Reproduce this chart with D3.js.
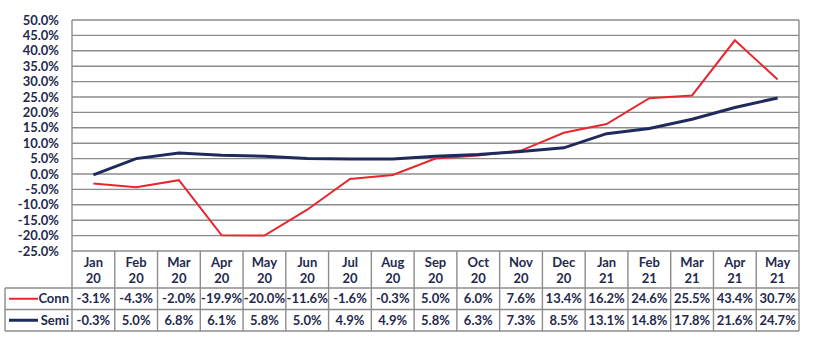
<!DOCTYPE html>
<html>
<head>
<meta charset="utf-8">
<script src="https://cdn.jsdelivr.net/npm/d3@7"></script>
<style>
  body { margin: 0; background: #fff; }
  svg text { font-family: Lato, "Open Sans", sans-serif; font-weight: bold; fill: #1f2a4e; }
</style>
</head>
<body>
<svg id="chart" width="818" height="364"></svg>
<script>
// data
const months = ["Jan", "Feb", "Mar", "Apr", "May", "Jun", "Jul", "Aug", "Sep", "Oct", "Nov", "Dec", "Jan", "Feb", "Mar", "Apr", "May"];
const years = ["20", "20", "20", "20", "20", "20", "20", "20", "20", "20", "20", "20", "21", "21", "21", "21", "21"];
const conn = [-3.1, -4.3, -2.0, -19.9, -20.0, -11.6, -1.6, -0.3, 5.0, 6.0, 7.6, 13.4, 16.2, 24.6, 25.5, 43.4, 30.7];
const semi = [-0.3, 5.0, 6.8, 6.1, 5.8, 5.0, 4.9, 4.9, 5.8, 6.3, 7.3, 8.5, 13.1, 14.8, 17.8, 21.6, 24.7];
const yTicks = [50, 45, 40, 35, 30, 25, 20, 15, 10, 5, 0, -5, -10, -15, -20, -25];

const series = [
  { name: "Conn", values: conn, color: "#e8262d", width: 2 },
  { name: "Semi", values: semi, color: "#1f2a5c", width: 3 }
];

const svg = d3.select("#chart");
const plotLeft = 72, plotRight = 799, plotTop = 20, plotBottom = 251;
const headerH = 37, rowH = 21.5, legendLeft = 5;
const gridColor = "#8c8c8c";
const fs = "13px";

const x = d3.scaleBand().domain(d3.range(months.length)).range([plotLeft, plotRight]);
const y = d3.scaleLinear().domain([-25, 50]).range([plotBottom, plotTop]);
const tableBottom = plotBottom + headerH + 2 * rowH;

// gridlines
svg.append("g").selectAll("line").data(yTicks).enter().append("line")
  .attr("x1", plotLeft).attr("x2", plotRight)
  .attr("y1", d => y(d)).attr("y2", d => y(d))
  .attr("stroke", gridColor).attr("stroke-width", 1.4);

// plot border sides
[plotLeft, plotRight].forEach(xx => {
  svg.append("line").attr("x1", xx).attr("x2", xx).attr("y1", plotTop).attr("y2", tableBottom)
    .attr("stroke", gridColor).attr("stroke-width", 1.4);
});

// y axis labels
const yAxis = d3.axisLeft(y).tickValues(yTicks).tickSize(0).tickPadding(13)
  .tickFormat(d => d.toFixed(1) + "%");
const ya = svg.append("g").attr("transform", `translate(${plotLeft},0)`).call(yAxis);
ya.select(".domain").remove();
ya.selectAll("text").style("font-size", fs).attr("font-family", null).attr("fill", null);

// lines
const line = d3.line().x((d, i) => x(i) + x.bandwidth() / 2).y(d => y(d));
series.forEach(s => {
  svg.append("path").datum(s.values).attr("d", line)
    .attr("fill", "none").attr("stroke", s.color).attr("stroke-width", s.width)
    .attr("stroke-linejoin", "miter");
});

// data table
const tbl = svg.append("g");
// horizontal rules
[plotBottom + headerH, plotBottom + headerH + rowH, tableBottom].forEach(yy => {
  tbl.append("line").attr("x1", legendLeft).attr("x2", plotRight).attr("y1", yy).attr("y2", yy)
    .attr("stroke", gridColor).attr("stroke-width", 1.4);
});
tbl.append("line").attr("x1", legendLeft).attr("x2", legendLeft)
  .attr("y1", plotBottom + headerH).attr("y2", tableBottom)
  .attr("stroke", gridColor).attr("stroke-width", 1.4);
// column separators
tbl.selectAll("line.col").data(d3.range(1, months.length)).enter().append("line")
  .attr("class", "col")
  .attr("x1", d => x(d)).attr("x2", d => x(d))
  .attr("y1", plotBottom).attr("y2", tableBottom)
  .attr("stroke", gridColor).attr("stroke-width", 1.4);

// header
months.forEach((m, i) => {
  const cx = x(i) + x.bandwidth() / 2;
  tbl.append("text").attr("x", cx).attr("y", plotBottom + 16).attr("text-anchor", "middle")
    .style("font-size", fs).text(m);
  tbl.append("text").attr("x", cx).attr("y", plotBottom + 32).attr("text-anchor", "middle")
    .style("font-size", fs).text(years[i]);
});

// rows
series.forEach((s, r) => {
  const rowTop = plotBottom + headerH + r * rowH;
  const cy = rowTop + rowH / 2;
  tbl.append("line").attr("x1", legendLeft + 4).attr("x2", 38).attr("y1", cy).attr("y2", cy)
    .attr("stroke", s.color).attr("stroke-width", s.width);
  tbl.append("text").attr("x", plotLeft - 3).attr("y", cy + 4.5).attr("text-anchor", "end")
    .style("font-size", fs).text(s.name);
  s.values.forEach((v, i) => {
    tbl.append("text").attr("x", x(i) + x.bandwidth() / 2).attr("y", cy + 4.5)
      .attr("text-anchor", "middle").style("font-size", fs)
      .text(v.toFixed(1) + "%");
  });
});
</script>
</body>
</html>
